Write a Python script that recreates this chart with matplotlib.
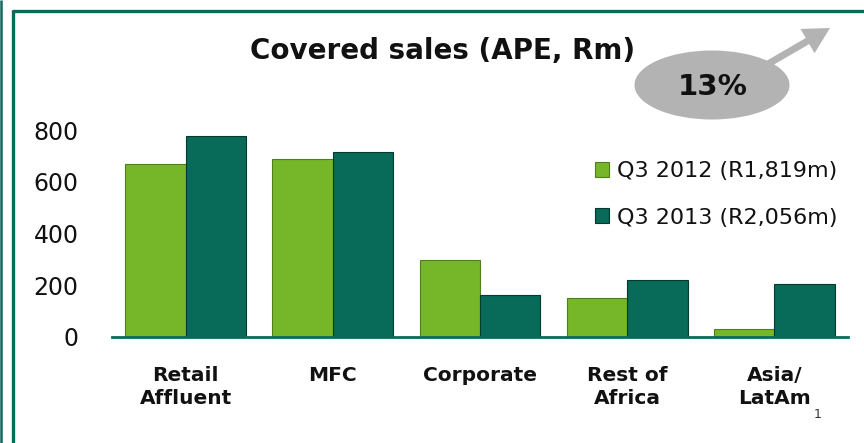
import matplotlib
matplotlib.use("Agg")
import matplotlib.pyplot as plt
import numpy as np
from matplotlib.patches import Ellipse, FancyArrow

# chart data
categories = ["Retail\nAffluent", "MFC", "Corporate", "Rest of\nAfrica", "Asia/\nLatAm"]
sales_2012 = [668, 688, 296, 152, 30]
sales_2013 = [778, 715, 161, 220, 203]
series_labels = ["Q3 2012 (R1,819m)", "Q3 2013 (R2,056m)"]
growth_label = "13%"
y_ticks = [0, 200, 400, 600, 800]

LIGHT = "#76b72a"
DARK = "#086a58"
FRAME = "#0b6b5a"
W, H = 864, 443

plt.rcParams["font.family"] = ["DejaVu Sans"]

fig = plt.figure(figsize=(W / 100, H / 100), dpi=100)

# overlay in pixel coordinates for the frame and the growth bubble
deco = fig.add_axes([0, 0, 1, 1])
deco.set_xlim(0, W)
deco.set_ylim(H, 0)
deco.axis("off")
deco.plot([1, 1], [0, H], color=FRAME, lw=1.8, solid_capstyle="butt")
deco.plot([13, 13], [10, H], color=FRAME, lw=2.4, solid_capstyle="butt")
deco.plot([12, W], [11, 11], color=FRAME, lw=2.4, solid_capstyle="butt")
deco.add_patch(FancyArrow(768, 64, 62, -36, width=7, head_width=28,
                          head_length=26, color="#b3b3b3", lw=0,
                          length_includes_head=True))
deco.add_patch(Ellipse((712, 85), 155, 69, color="#b3b3b3", lw=0))
deco.text(713, 87, growth_label, ha="center", va="center",
          fontsize=21, fontweight="bold", color="#111111")
deco.text(443, 51, "Covered sales (APE, Rm)", ha="center", va="center",
          fontsize=20, fontweight="bold", color="#111111")

# main bar chart
ax = fig.add_axes([112 / W, 1 - 337 / H, (848 - 112) / W, (337 - 130) / H])
x = np.arange(len(categories))
bw = 0.41
ax.bar(x - bw / 2, sales_2012, bw, color=LIGHT, edgecolor="#4f7f1a",
       linewidth=0.8, label=series_labels[0])
ax.bar(x + bw / 2, sales_2013, bw, color=DARK, edgecolor="#03392f",
       linewidth=0.8, label=series_labels[1])

ax.set_xlim(-0.5, len(categories) - 0.5)
ax.set_ylim(0, 800)
ax.set_yticks(y_ticks)
ax.set_yticklabels([str(v) for v in y_ticks], fontsize=17, color="#111111")
ax.set_xticks(x)
ax.set_xticklabels(categories, fontsize=14.5, fontweight="bold",
                   color="#111111", linespacing=1.25)
ax.tick_params(axis="y", length=0, pad=24)
ax.tick_params(axis="x", length=0, pad=21)
for s in ["left", "right", "top"]:
    ax.spines[s].set_visible(False)
ax.spines["bottom"].set_color(FRAME)
ax.spines["bottom"].set_linewidth(2)
ax.patch.set_alpha(0)

# footnote marker after LatAm
deco.text(814, 418, "1", fontsize=9, color="#333333", ha="left", va="baseline")

leg = ax.legend(loc="upper left", bbox_to_anchor=(586 / W, 1 - 152 / H),
                bbox_transform=fig.transFigure, frameon=False, fontsize=16,
                handlelength=0.65, handleheight=0.65, handletextpad=0.35,
                labelspacing=1.2, borderaxespad=0)
for t in leg.get_texts():
    t.set_color("#111111")

fig.savefig("out.png", dpi=100)
